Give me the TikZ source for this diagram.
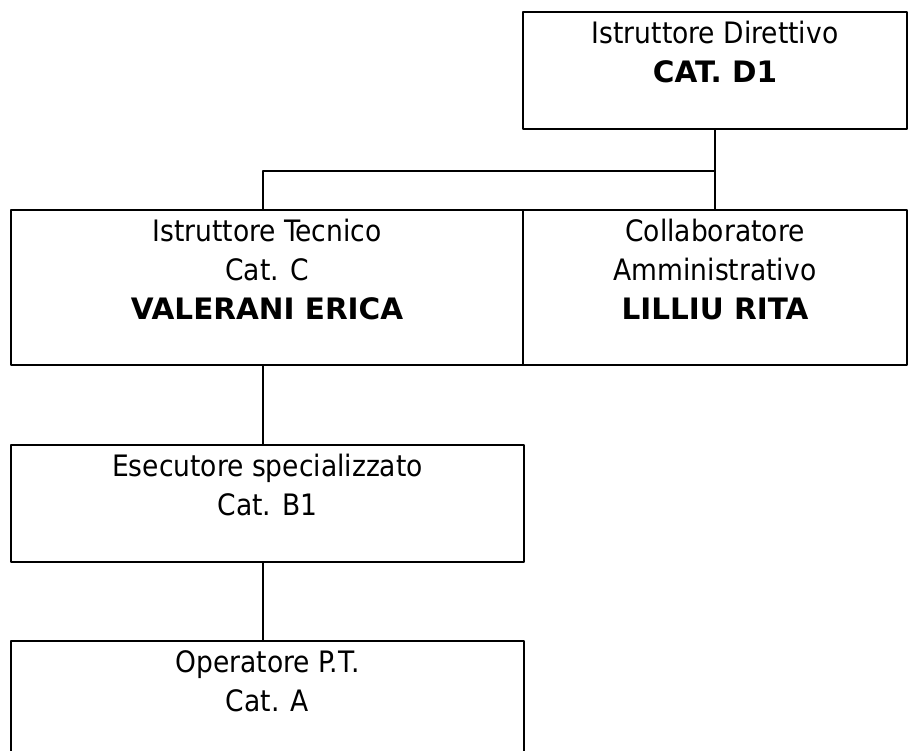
\documentclass[tikz,border=0pt]{standalone}
\usepackage{fontspec}
\setmainfont{DejaVu Sans Condensed}[BoldFont={DejaVu Sans Bold}]
\tikzset{
  box/.style={draw, line width=2pt, minimum width=#1, inner sep=0pt},
  link/.style={line width=2pt},
  txt/.style={anchor=north, align=center, inner sep=0pt, font=\fontsize{29.5}{39}\selectfont, yshift=-10pt}
}
\begin{document}
\begin{tikzpicture}[x=1pt, y=-1pt, line join=round, line cap=round]
				\useasboundingbox (0,0) rectangle (909,751);
				\clip (0,0) rectangle (909,751);
				
				% Caselle dell'organigramma
				\node[box=384pt, minimum height=117pt] (dir) at (715,70.5) {};
				\node[box=512pt, minimum height=155pt] (tec) at (267,287.5) {};
				\node[box=384pt, minimum height=155pt] (amm) at (715,287.5) {};
				\node[box=513pt, minimum height=117pt] (ese) at (267.5,503.5) {};
				\node[box=513pt, minimum height=117pt] (ope) at (267.5,699.5) {};
				
				% Testi
				\node[txt] (dir-t) at (dir.north) {Istruttore Direttivo\\\textbf{CAT. D1}};
				\node[txt] (tec-t) at (tec.north) {Istruttore Tecnico\\Cat. C\\\textbf{VALERANI ERICA}};
				\node[txt] (amm-t) at (amm.north) {Collaboratore\\Amministrativo\\\textbf{LILLIU RITA}};
				\node[txt] (ese-t) at (ese.north) {Esecutore specializzato\\Cat. B1};
				\node[txt] (ope-t) at (ope.north) {Operatore P.T.\\Cat. A};
				
				% Linee di collegamento
				\coordinate (busL) at (263,171);
				\coordinate (busR) at (715,171);
				\draw[link] (dir.south) -- (busR) -- (busL) -- (busL |- tec.north);
				\draw[link] (busR) -- (amm.north);
				\draw[link] (busL |- tec.south) -- (busL |- ese.north);
				\draw[link] (busL |- ese.south) -- (busL |- ope.north);
			\end{tikzpicture}
\end{document}
